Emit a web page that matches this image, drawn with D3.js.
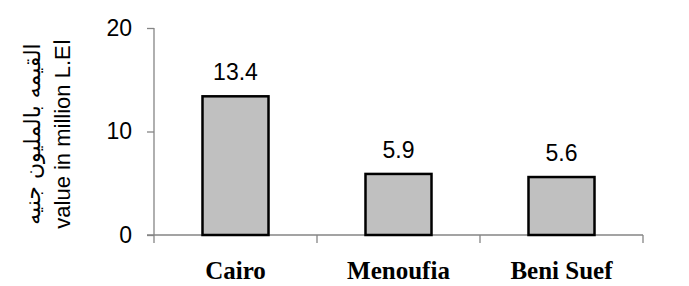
<!DOCTYPE html>
<html>
<head>
<meta charset="utf-8">
<script src="https://cdn.jsdelivr.net/npm/d3@7"></script>
<style>
  body { margin: 0; background: #fff; }
</style>
</head>
<body>
<div id="chart"></div>
<script>
const categories = ["Cairo", "Menoufia", "Beni Suef"];
const values = [13.4, 5.9, 5.6];
const yTicks = [0, 10, 20];
const yTitleAr = "القيمه  بالمليون جنيه";
const yTitleEn = "value in million L.E\u0627";

const width = 689, height = 286;
const svg = d3.select("#chart").append("svg")
  .attr("width", width)
  .attr("height", height);

const x = d3.scaleBand()
  .domain(categories)
  .range([154, 643])
  .paddingInner(0.595)
  .paddingOuter(0.2975);

const y = d3.scaleLinear().domain([0, 20]).range([235, 28]);

const axisColor = "#858585";

// y axis
const yAxis = svg.append("g")
  .attr("transform", "translate(154,0)")
  .call(d3.axisLeft(y).tickValues(yTicks).tickSize(7).tickSizeOuter(0).tickPadding(15));
yAxis.select(".domain").remove();
yAxis.selectAll("line").attr("stroke", axisColor).attr("stroke-width", 1.3);
yAxis.selectAll("text")
  .attr("font-family", "Arial, 'Liberation Sans', sans-serif")
  .attr("font-size", 23)
  .attr("fill", "#000");
svg.append("line")
  .attr("x1", 154).attr("x2", 154)
  .attr("y1", y(20)).attr("y2", y(0) + 8)
  .attr("stroke", axisColor).attr("stroke-width", 1.3);

// x axis
svg.append("line")
  .attr("x1", 147).attr("x2", x.range()[1])
  .attr("y1", y(0)).attr("y2", y(0))
  .attr("stroke", axisColor).attr("stroke-width", 1.3);
const bounds = d3.range(categories.length + 1).map(i => x.range()[0] + i * x.step());
svg.selectAll(".xtick")
  .data(bounds.slice(1))
  .join("line")
  .attr("x1", d => d).attr("x2", d => d)
  .attr("y1", y(0)).attr("y2", y(0) + 8)
  .attr("stroke", axisColor).attr("stroke-width", 1.3);

// bars
svg.selectAll(".bar")
  .data(values)
  .join("rect")
  .attr("x", (d, i) => x(categories[i]))
  .attr("y", d => y(d))
  .attr("width", x.bandwidth())
  .attr("height", d => y(0) - y(d))
  .attr("fill", "#c0c0c0")
  .attr("stroke", "#000")
  .attr("stroke-width", 2.5);

// value labels
svg.selectAll(".val")
  .data(values)
  .join("text")
  .attr("x", (d, i) => x(categories[i]) + x.bandwidth() / 2)
  .attr("y", d => y(d) - 16)
  .attr("text-anchor", "middle")
  .attr("font-family", "Arial, 'Liberation Sans', sans-serif")
  .attr("font-size", 23)
  .text(d => d.toFixed(1));

// category labels
svg.selectAll(".cat")
  .data(categories)
  .join("text")
  .attr("x", d => x(d) + x.bandwidth() / 2)
  .attr("y", 279)
  .attr("text-anchor", "middle")
  .attr("font-family", "'Liberation Serif', 'Times New Roman', serif")
  .attr("font-weight", "bold")
  .attr("font-size", 25)
  .text(d => d);

// y titles
svg.append("text")
  .attr("transform", "translate(40,134) rotate(-90)")
  .attr("text-anchor", "middle")
  .attr("font-family", "'DejaVu Sans', 'Noto Sans', sans-serif")
  .attr("font-size", 22)
  .text(yTitleAr);
svg.append("text")
  .attr("transform", "translate(70,134) rotate(-90)")
  .attr("text-anchor", "middle")
  .attr("font-family", "Arial, 'Liberation Sans', sans-serif")
  .attr("font-size", 22)
  .attr("direction", "ltr")
  .text(yTitleEn);
</script>
</body>
</html>
